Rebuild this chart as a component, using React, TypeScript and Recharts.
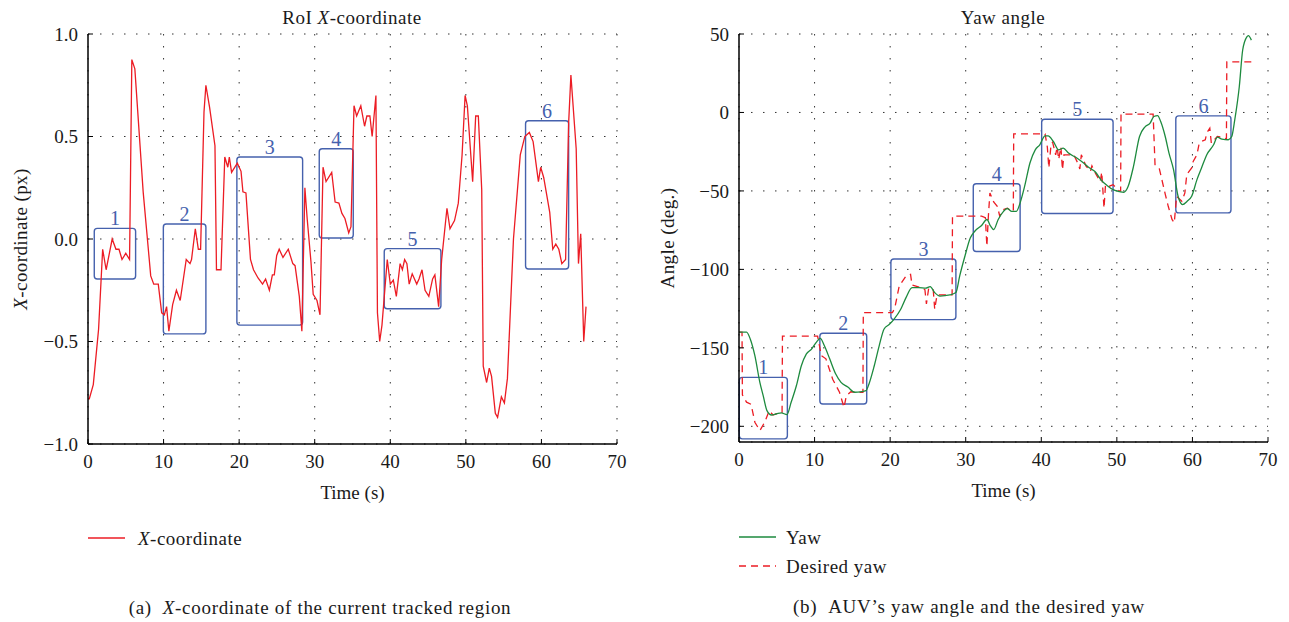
import React from "react";
import { LineChart, Line, XAxis, YAxis, CartesianGrid, ReferenceArea } from "recharts";

const FONT = '"Liberation Serif", "Times New Roman", serif';
const RED = "#ec1c24";
const GREEN = "#1d8a3e";
const BLUE = "#4561ad";
const INK = "#1a1a1a";

const timeTicks = [0, 10, 20, 30, 40, 50, 60, 70];
const coordTicks = [-1, -0.5, 0, 0.5, 1];
const angleTicks = [-200, -150, -100, -50, 0, 50];

// (a) RoI X-coordinate
const coordTime = [
  0, 0.17, 0.7, 1.4, 1.94, 2.4, 3.2, 3.7, 4.1, 4.5, 5.0, 5.5, 5.8, 6.2, 7.3, 8.3, 8.7, 9.3, 9.75, 10.1,
  10.4, 10.7, 11.2, 11.7, 12.2, 13.0, 13.5, 13.7, 14.2, 14.6, 14.9, 15.35, 15.6, 16.1, 16.8, 17.0, 17.6,
  18.1, 18.5, 18.7, 19.0, 19.76, 20.25, 20.5, 20.9, 21.5, 21.9, 22.5, 23.1, 23.5, 24.0, 24.4, 24.65,
  24.97, 25.3, 25.8, 26.5, 27.1, 27.4, 27.96, 28.3, 28.7, 29.0, 29.5, 29.8, 30.3, 30.7, 31.1, 31.5,
  32.25, 32.7, 33.2, 33.6, 34.0, 34.5, 34.8, 35.2, 35.55, 36.1, 36.6, 36.9, 37.3, 37.6, 38.1, 38.3,
  38.6, 38.9, 39.6, 40.0, 40.4, 40.8, 41.3, 41.6, 41.9, 42.2, 42.5, 42.9, 43.5, 43.8, 44.2, 44.6,
  45.1, 45.6, 45.9, 46.4, 46.8, 47.5, 47.9, 48.5, 49.0, 49.5, 49.9, 50.2, 50.9, 51.3, 51.65, 52.1,
  52.3, 52.75, 53.1, 53.4, 53.9, 54.2, 54.7, 55.1, 55.5, 56.3, 57.2, 57.8, 58.4, 58.9, 59.6, 59.9,
  60.3, 61.1, 61.5, 61.9, 62.3, 62.7, 63.2, 63.6, 63.9, 64.6, 64.9, 65.2, 65.6, 65.9,
];
const coordValue = [
  -0.78, -0.78, -0.71, -0.44, -0.05, -0.15, 0.0, -0.05, -0.05, -0.1, -0.07, -0.1, 0.875, 0.83, 0.23,
  -0.18, -0.22, -0.22, -0.36, -0.37, -0.33, -0.45, -0.32, -0.25, -0.3, -0.1, -0.12, -0.1, 0.05, -0.05,
  -0.05, 0.62, 0.75, 0.64, 0.455, -0.15, -0.15, 0.4, 0.35, 0.4, 0.325, 0.37, 0.33, 0.23, 0.225, -0.1,
  -0.15, -0.19, -0.22, -0.195, -0.25, -0.175, -0.175, -0.08, -0.05, -0.09, -0.05, -0.12, -0.13, -0.28,
  -0.45, 0.25, 0.1, -0.11, -0.27, -0.3, -0.37, 0.35, 0.28, 0.325, 0.18, 0.175, 0.125, 0.1, 0.03, 0.06,
  0.65, 0.6, 0.65, 0.55, 0.6, 0.6, 0.5, 0.7, -0.36, -0.5, -0.42, -0.1, -0.22, -0.2, -0.28, -0.12, -0.15,
  -0.1, -0.12, -0.22, -0.17, -0.22, -0.195, -0.15, -0.25, -0.28, -0.195, -0.175, -0.33, -0.1, 0.15,
  0.05, 0.09, 0.175, 0.41, 0.7, 0.65, 0.28, 0.6, 0.6, 0.24, -0.62, -0.7, -0.63, -0.67, -0.85, -0.87,
  -0.77, -0.8, -0.68, 0.0, 0.41, 0.5, 0.52, 0.475, 0.28, 0.35, 0.3, 0.13, -0.05, -0.025, -0.05, -0.12,
  -0.1, 0.565, 0.8, 0.44, -0.12, 0.025, -0.5, -0.33,
];
const coordBoxLabels = ["1", "2", "3", "4", "5", "6"];
const coordBoxT1 = [0.83, 9.97, 19.7, 30.6, 39.2, 57.9];
const coordBoxT2 = [6.3, 15.6, 28.4, 35.1, 46.7, 63.6];
const coordBoxTop = [0.052, 0.073, 0.4, 0.44, -0.047, 0.577];
const coordBoxBottom = [-0.195, -0.463, -0.42, 0.005, -0.34, -0.146];

// (b) Yaw angle
const yawTime = [
  0, 1.0, 1.5, 2.1, 2.76, 3.2, 3.7, 4.3, 5.0, 5.6, 6.35, 6.9, 7.6, 8.25, 8.9, 9.6, 10.3, 10.75, 11.3,
  12.0, 12.8, 13.5, 14.4, 15.3, 16.1, 16.8, 17.2, 17.9, 18.55, 19.2, 19.9, 20.5, 21.4, 22.1, 22.9,
  23.8, 24.7, 25.3, 25.9, 26.6, 27.9, 28.7, 29.2, 29.9, 30.6, 31.2, 32.1, 32.8, 33.3, 33.7, 34.3, 35.0,
  35.5, 36.1, 36.7, 37.2, 37.8, 38.5, 39.2, 39.8, 40.5, 40.9, 41.6, 42.3, 42.9, 43.6, 44.7, 45.6, 46.4,
  47.1, 48.0, 48.7, 49.5, 50.4, 50.9, 51.5, 52.2, 53.0, 53.7, 54.4, 54.9, 55.4, 55.8, 56.4, 56.9, 57.5,
  58.1, 58.7, 59.3, 59.9, 60.6, 61.2, 61.9, 62.8, 63.3, 63.9, 64.75, 65.2, 65.6, 66.2, 66.65, 67.2,
  67.4, 67.8,
];
const yawValue = [
  -140, -140, -144.5, -155, -172, -180.5, -190, -192.8, -192, -191.5, -192.5, -184.7, -174, -161.4,
  -154, -150.8, -146, -144, -148.7, -157, -166.7, -172, -175, -178.3, -178, -177.3, -173, -161.4,
  -148.7, -138, -135, -131.8, -125.4, -118, -111.6, -111.6, -112, -111, -114.8, -117, -116.3, -114.8,
  -104.3, -91.5, -80, -75.7, -72, -68.2, -72.5, -74.6, -68.2, -63, -61.2, -63, -63, -57.6, -47, -32.2,
  -23.8, -20.6, -14.9, -14.9, -18.5, -23.8, -22.7, -25.9, -29, -32.2, -35.4, -37.6, -43.5, -46.5,
  -49.2, -50.5, -50.9, -47, -34.4, -15.3, -9.3, -6.8, -2.6, -2, -5.8, -15.3, -25.9, -36.5, -53.4,
  -58.7, -56.6, -53.4, -42.8, -35.4, -26.9, -20.6, -15.7, -17, -17.4, -15.3, -4.7, 16.4, 39.8, 48.2,
  49, 46.1,
];
const desiredTime = [
  0, 0.4, 0.45, 1.0, 1.6, 2.1, 2.76, 3.4, 4.0, 4.5, 5.2, 5.7, 5.75, 10.4, 10.9, 11.5, 12.4, 13.3, 13.9,
  14.2, 14.8, 15.9, 16.4, 16.45, 20.3, 20.6, 21.2, 22.1, 22.7, 22.9, 24.0, 24.6, 24.8, 25.1, 25.7,
  25.9, 26.2, 28.2, 28.25, 32.1, 32.6, 32.8, 33.0, 33.2, 33.7, 34.2, 34.5, 35.0, 35.5, 36.1, 36.3,
  36.35, 40.5, 40.8, 41.0, 41.3, 41.5, 41.9, 42.1, 42.3, 42.6, 42.8, 43.0, 43.7, 44.3, 44.9, 45.1,
  45.3, 45.9, 46.5, 46.7, 47.2, 47.8, 48.0, 48.3, 48.5, 49.0, 49.5, 50.3, 50.5, 50.55, 54.8, 55.05,
  55.6, 56.4, 56.8, 57.3, 57.6, 57.9, 58.6, 59.0, 59.25, 59.9, 60.1, 60.6, 60.9, 61.2, 61.7, 61.9,
  62.3, 62.5, 63.3, 63.9, 64.5, 64.55, 67.8,
];
const desiredValue = [
  -140, -140, -180, -184.6, -186, -197.4, -202.7, -197.4, -190, -192.8, -191.5, -191, -142.5, -142.5,
  -155, -157, -170, -178.3, -188, -180.5, -178, -178.3, -178.3, -127.5, -127.5, -125, -110.6, -104.2,
  -103.2, -110, -111.6, -113, -122, -112, -113, -125.4, -116.3, -116.3, -66, -66, -67, -85.2, -66,
  -51.3, -57, -60, -66, -61.9, -61, -63, -63, -13.6, -13.6, -22, -35.4, -20, -19, -27, -22, -30, -22,
  -36.5, -27, -27, -27, -33, -36, -27, -34, -37.5, -34, -39, -44, -38, -61, -46, -47, -46, -50, -50, -1,
  -1, -33.3, -35.4, -52, -59.8, -68.2, -70.3, -53.4, -56.6, -51.3, -39.6, -35.4, -31.2, -27, -19.5,
  -18.5, -17.4, -13, -10, -19.5, -15.3, -15.7, -16.8, 32.3, 32.3,
];
const yawBoxLabels = ["1", "2", "3", "4", "5", "6"];
const yawBoxT1 = [0.04, 10.7, 20.1, 31.0, 40.05, 57.8];
const yawBoxT2 = [6.4, 16.9, 28.7, 37.2, 49.5, 65.1];
const yawBoxTop = [-168.8, -140.7, -93.4, -45.4, -4.3, -2.2];
const yawBoxBottom = [-208, -185.8, -132, -88.6, -64.4, -64];

const coordData = coordTime.map((t, i) => ({ t, v: coordValue[i] }));
const yawData = yawTime.map((t, i) => ({ t, v: yawValue[i] }));
const desiredData = desiredTime.map((t, i) => ({ t, v: desiredValue[i] }));

const minus = (s: string) => s.replace("-", "\u2212");
const fmtCoord = (v: number) => minus(v.toFixed(1));
const fmtAngle = (v: number) => minus(String(v));
const blank = () => "";

const BoxShape = (p: any) => (
  <rect x={p.x} y={p.y} width={p.width} height={p.height} rx={3} ry={3} fill="none" stroke={BLUE} strokeWidth={1.4} />
);

const tickStyle = { fill: INK, fontSize: 19, fontFamily: FONT };
const axisLine = { stroke: "#000", strokeWidth: 1.5 };
const tickLine = { stroke: "#000", strokeWidth: 1 };

function frameAxes(yDomain: number[], yTicks: number[]) {
  return [
    <XAxis
      key="xt"
      xAxisId="top"
      orientation="top"
      type="number"
      domain={[0, 70]}
      ticks={timeTicks}
      height={0}
      tickSize={-5}
      tickFormatter={blank}
      axisLine={axisLine}
      tickLine={tickLine}
    />,
    <YAxis
      key="yr"
      yAxisId="right"
      orientation="right"
      type="number"
      domain={yDomain}
      ticks={yTicks}
      width={0}
      tickSize={-5}
      tickFormatter={blank}
      axisLine={axisLine}
      tickLine={tickLine}
    />,
  ];
}

const Txt = ({ x, y, children, size = 19, align = "center", spacing = 0.5 }: any) => (
  <div
    style={{
      position: "absolute",
      left: x,
      top: y,
      transform: align === "center" ? "translate(-50%, -50%)" : "translate(0, -50%)",
      whiteSpace: "nowrap",
      fontSize: size,
      letterSpacing: spacing,
      color: INK,
      lineHeight: 1,
    }}
  >
    {children}
  </div>
);

const LegendLine = ({ x, y, color, dashed }: any) => (
  <svg style={{ position: "absolute", left: x, top: y - 2 }} width={37} height={4}>
    <line x1={0} y1={2} x2={37} y2={2} stroke={color} strokeWidth={1.4} strokeDasharray={dashed ? "7 5" : undefined} />
  </svg>
);

const VLabel = ({ x, y, children }: any) => (
  <div
    style={{
      position: "absolute",
      left: x,
      top: y,
      transform: "translate(-50%, -50%) rotate(-90deg)",
      whiteSpace: "nowrap",
      fontSize: 19,
      letterSpacing: 0.4,
      color: INK,
      lineHeight: 1,
    }}
  >
    {children}
  </div>
);

export default function App() {
  return (
    <div
      style={{
        position: "absolute",
        left: 0,
        top: 0,
        width: 1289,
        height: 622,
        background: "#fff",
        fontFamily: FONT,
        overflow: "hidden",
      }}
    >
      {/* (a) RoI X-coordinate */}
      <div style={{ position: "absolute", left: 0, top: 0 }}>
        <LineChart width={640} height={520} data={coordData} margin={{ top: 34, right: 23, bottom: 0, left: 0 }}>
          <CartesianGrid stroke="#333" strokeDasharray="1.5 10.5" />
          <XAxis
            dataKey="t"
            type="number"
            domain={[0, 70]}
            ticks={timeTicks}
            height={76}
            tickSize={-5}
            tickMargin={16}
            tick={tickStyle}
            axisLine={axisLine}
            tickLine={tickLine}
            label={{ value: "Time (s)", position: "insideBottom", offset: 21, fill: INK, fontSize: 19, fontFamily: FONT }}
          />
          <YAxis
            type="number"
            domain={[-1, 1]}
            ticks={coordTicks}
            width={88}
            tickSize={-5}
            tickMargin={15}
            tick={tickStyle}
            tickFormatter={fmtCoord}
            axisLine={axisLine}
            tickLine={tickLine}
          />
          {frameAxes([-1, 1], coordTicks)}
          {coordBoxLabels.map((lab, i) => (
            <ReferenceArea
              key={lab}
              x1={coordBoxT1[i]}
              x2={coordBoxT2[i]}
              y1={coordBoxBottom[i]}
              y2={coordBoxTop[i]}
              shape={BoxShape}
              label={{ value: lab, position: "top", offset: 3, fill: BLUE, fontSize: 20, fontFamily: FONT }}
            />
          ))}
          <Line
            dataKey="v"
            type="linear"
            stroke={RED}
            strokeWidth={1.3}
            dot={false}
            isAnimationActive={false}
          />
        </LineChart>
      </div>

      {/* (b) Yaw angle */}
      <div style={{ position: "absolute", left: 651, top: 0 }}>
        <LineChart width={638} height={520} margin={{ top: 34, right: 21, bottom: 0, left: 0 }}>
          <CartesianGrid stroke="#333" strokeDasharray="1.5 10.5" />
          <XAxis
            dataKey="t"
            type="number"
            domain={[0, 70]}
            ticks={timeTicks}
            height={78}
            tickSize={-5}
            tickMargin={16}
            tick={tickStyle}
            axisLine={axisLine}
            tickLine={tickLine}
            label={{ value: "Time (s)", position: "insideBottom", offset: 23, fill: INK, fontSize: 19, fontFamily: FONT }}
          />
          <YAxis
            type="number"
            domain={[-210, 50]}
            ticks={angleTicks}
            width={88}
            tickSize={-5}
            tickMargin={15}
            tick={tickStyle}
            tickFormatter={fmtAngle}
            axisLine={axisLine}
            tickLine={tickLine}
          />
          {frameAxes([-210, 50], angleTicks)}
          {yawBoxLabels.map((lab, i) => (
            <ReferenceArea
              key={lab}
              x1={yawBoxT1[i]}
              x2={yawBoxT2[i]}
              y1={yawBoxBottom[i]}
              y2={yawBoxTop[i]}
              shape={BoxShape}
              label={{ value: lab, position: "top", offset: 3, fill: BLUE, fontSize: 20, fontFamily: FONT }}
            />
          ))}
          <Line
            data={desiredData}
            dataKey="v"
            type="linear"
            stroke={RED}
            strokeWidth={1.3}
            strokeDasharray="7 5"
            dot={false}
            isAnimationActive={false}
          />
          <Line
            data={yawData}
            dataKey="v"
            type="monotone"
            stroke={GREEN}
            strokeWidth={1.3}
            dot={false}
            isAnimationActive={false}
          />
        </LineChart>
      </div>

      {/* titles */}
      <Txt x={352} y={17}>
        RoI <i>X</i>-coordinate
      </Txt>
      <Txt x={1003} y={17}>Yaw angle</Txt>

      {/* y-axis titles */}
      <VLabel x={20} y={239}>
        <i>X</i>-coordinate (px)
      </VLabel>
      <VLabel x={667} y={238}>
        Angle (deg.)
      </VLabel>

      {/* legends */}
      <LegendLine x={88} y={538} color={RED} />
      <Txt x={138} y={538} align="left">
        <i>X</i>-coordinate
      </Txt>
      <LegendLine x={739} y={537} color={GREEN} />
      <Txt x={786} y={537} align="left">
        Yaw
      </Txt>
      <LegendLine x={739} y={566} color={RED} dashed />
      <Txt x={786} y={566} align="left">
        Desired yaw
      </Txt>

      {/* captions */}
      <Txt x={320} y={607} spacing={0.7}>
        (a)&nbsp;&nbsp;<i>X</i>-coordinate of the current tracked region
      </Txt>
      <Txt x={969} y={606} spacing={0.7}>
        (b)&nbsp;&nbsp;AUV’s yaw angle and the desired yaw
      </Txt>
    </div>
  );
}
